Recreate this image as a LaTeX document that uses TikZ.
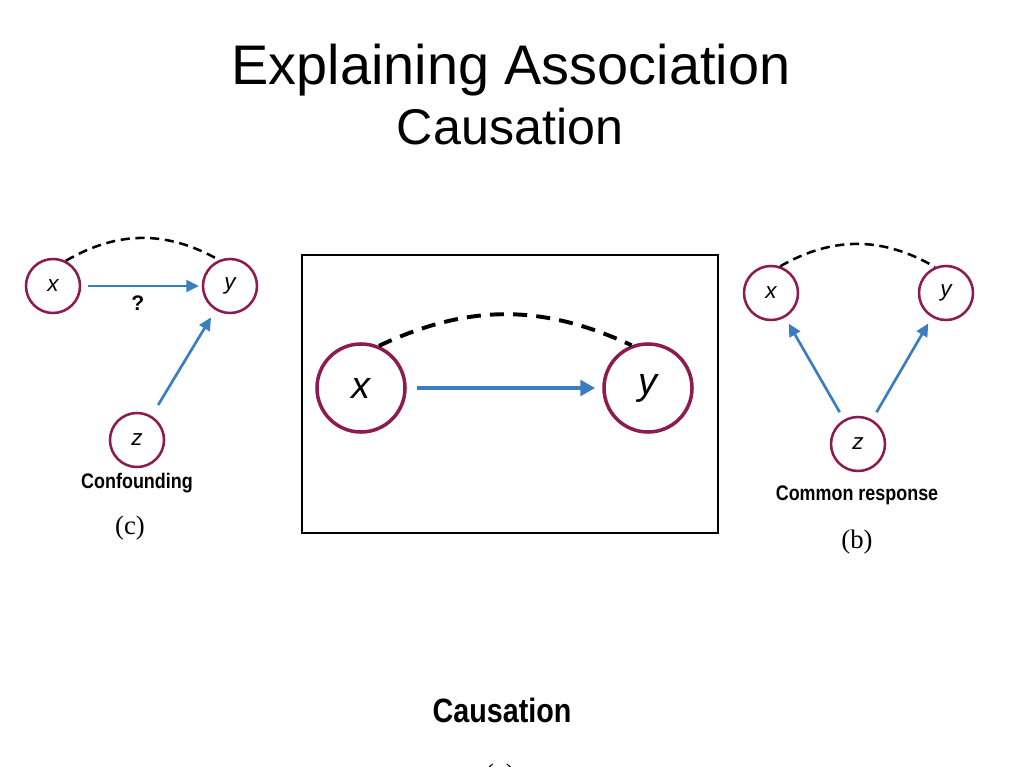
\documentclass[tikz,border=0pt]{standalone}
\usepackage{fontspec}
\setmainfont{Liberation Sans}
\newfontfamily\capfont{Liberation Serif}
\usetikzlibrary{arrows.meta}

\definecolor{Ring}{HTML}{8E1A52}
\definecolor{Link}{HTML}{3A7EC0}

\begin{document}
\begin{tikzpicture}[x=0.025cm, y=-0.025cm,
  var/.style={circle, draw=Ring, line width=1.8pt, minimum size=1.35cm, inner sep=0pt, font=\fontsize{16}{16}\itshape},
  bigvar/.style={var, line width=2.5pt, minimum size=2.2cm, font=\fontsize{27}{27}\itshape},
  cause/.style={-{Triangle[length=9pt,width=8.5pt]}, draw=Link, line width=1.9pt},
  bigcause/.style={-{Triangle[length=10.5pt,width=11pt]}, draw=Link, line width=2.8pt},
  assoc/.style={dashed, line width=1.8pt, dash pattern=on 6.5pt off 4pt},
  bigassoc/.style={dashed, line width=2.8pt, dash pattern=on 10pt off 6.5pt},
  tag/.style={font=\fontsize{15}{15}\bfseries},
  panel/.style={font=\capfont\fontsize{19}{19}\selectfont}]

 \useasboundingbox (0,0) rectangle (1023,767);
 \clip (0,0) rectangle (1023,767);

 %%%%%%%%%% Titres %%%%%%%%%%
 \node[anchor=base] (title) at (511,85) {\fontsize{39.7}{40}\selectfont Explaining Association};
 \node[anchor=base] (subtitle) at (510,145) {\fontsize{35.7}{36}\selectfont Causation};

 %%%%%%%%%% Confounding (c) %%%%%%%%%%
 \node[var] (cx) at (53,286) {x};
 \node[var] (cy) at (230,286) {y};
 \node[var] (cz) at (137,440) {z};
 \draw[cause, shorten <=5pt, shorten >=2pt] (cx) -- (cy) node[pos=0.47, below=3pt, tag, black] {?};
 \draw[cause, shorten <=9pt, shorten >=6pt] (cz) -- (cy);
 \draw[assoc] (cx.63) to[bend left=30] (cy.113);
 \node[tag] (clab) at (137,483) {\scalebox{0.85}[1]{Confounding}};
 \node[panel] (cpan) at (130,528) {(c)};

 %%%%%%%%%% Causation (a) %%%%%%%%%%
 \draw[line width=0.8pt] (302,255) rectangle (718,533);
 \node[bigvar] (ax) at (361,388) {x};
 \node[bigvar] (ay) at (648,388) {y};
 \draw[bigcause, shorten <=7pt, shorten >=5pt] (ax) -- (ay);
 \draw[bigassoc] (ax.67) to[bend left=25] (ay.111);

 %%%%%%%%%% Common response (b) %%%%%%%%%%
 \node[var] (bx) at (771,293) {x};
 \node[var] (by) at (946,293) {y};
 \node[var] (bz) at (858,444) {z};
 \draw[cause, shorten <=6pt, shorten >=5pt] (bz) -- (bx);
 \draw[cause, shorten <=6pt, shorten >=5pt] (bz) -- (by);
 \draw[assoc] (bx.71) to[bend left=30] (by.113);
 \node[tag] (blab) at (857,495) {\scalebox{0.85}[1]{Common response}};
 \node[panel] (bpan) at (857,542) {(b)};

 %%%%%%%%%% Legende du bas %%%%%%%%%%
 \node[tag, font=\fontsize{24}{24}\bfseries] (alab) at (502,710) {\scalebox{0.85}[1]{Causation}};
 \node[panel] (apan) at (500,776) {(a)};

\end{tikzpicture}
\end{document}
